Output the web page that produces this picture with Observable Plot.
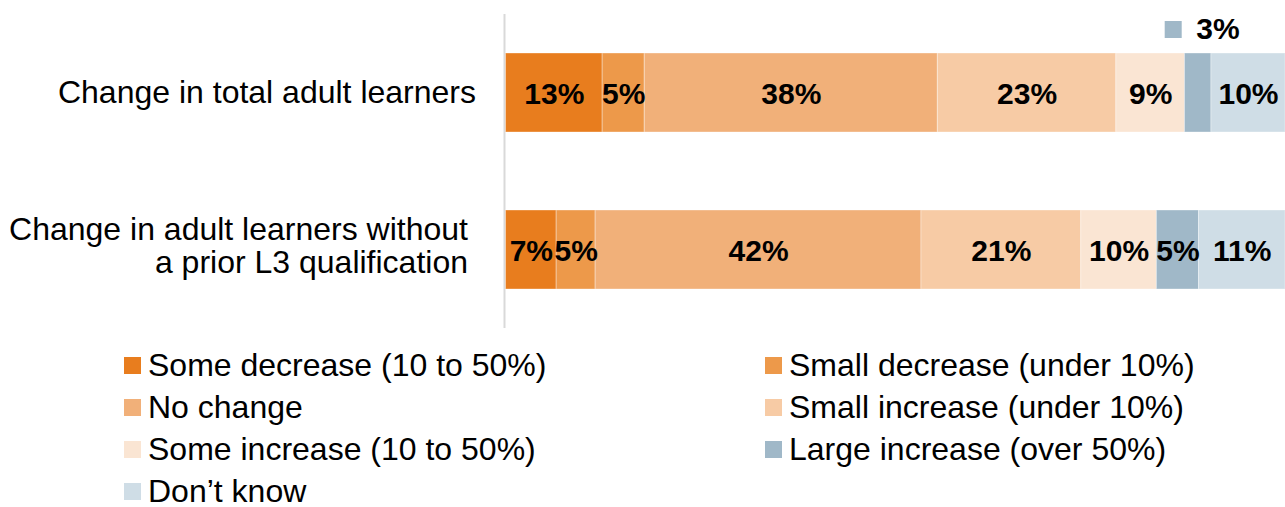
<!DOCTYPE html>
<html>
<head>
<meta charset="utf-8">
<script src="https://cdn.jsdelivr.net/npm/d3@7"></script>
<script src="https://cdn.jsdelivr.net/npm/@observablehq/plot@0.6"></script>
<style>
  body { margin: 0; background: white; font-family: "Liberation Sans", Arial, sans-serif; overflow: hidden; }
  #chart svg { display: block; }
  .legend { display: grid; grid-template-columns: 641px 1fr; grid-auto-rows: 42px; padding-left: 124px; margin-top: 9px; }
  .item { display: flex; align-items: center; font-size: 32px; line-height: 1; color: #000; white-space: nowrap; }
  .sw { width: 17px; height: 17px; margin-right: 7px; flex: none; }
</style>
</head>
<body>
<div id="chart"></div>
<div class="legend" id="legend"></div>
<script>
const categories = [
  "Change in total adult learners",
  "Change in adult learners without\na prior L3 qualification"
];
const series = [
  "Some decrease (10 to 50%)",
  "Small decrease (under 10%)",
  "No change",
  "Small increase (under 10%)",
  "Some increase (10 to 50%)",
  "Large increase (over 50%)",
  "Don’t know"
];
const colors = ["#E87D1E", "#ED994A", "#F1B079", "#F7CBA5", "#FAE5D3", "#A0B8C8", "#CFDDE6"];
const totalValues = [12.4, 5.4, 37.6, 22.9, 8.8, 3.4, 9.5];
const noPriorL3Values = [6.5, 5.0, 41.8, 20.5, 9.7, 5.4, 11.1];
const totalLabels = ["13%", "5%", "38%", "23%", "9%", "3%", "10%"];
const noPriorL3Labels = ["7%", "5%", "42%", "21%", "10%", "5%", "11%"];

const valueSets = [totalValues, noPriorL3Values];
const labelSets = [totalLabels, noPriorL3Labels];
const rows = [];
categories.forEach((c, i) => {
  let acc = 0;
  series.forEach((s, j) => {
    const v = valueSets[i][j];
    const x1 = acc; acc += v;
    rows.push({category: c, series: s, value: v, label: labelSets[i][j], x1, x2: acc, mid: (x1 + acc) / 2, callout: v < 4});
  });
});

const font = "'Liberation Sans', Arial, sans-serif";
const chart = Plot.plot({
  width: 1285,
  height: 335,
  marginLeft: 505.5,
  marginRight: 0,
  marginTop: 14,
  marginBottom: 7,
  style: {fontFamily: font, background: "white", overflow: "visible"},
  x: {domain: [0, 100], axis: null},
  y: {domain: categories, axis: null, paddingInner: 0.5, paddingOuter: 0.25},
  color: {domain: series, range: colors},
  marks: [
    Plot.ruleX([0], {stroke: "#d9d9d9", strokeWidth: 2, dx: -1.5}),
    Plot.barX(rows, {x1: "x1", x2: "x2", y: "category", fill: "series", stroke: "white", strokeOpacity: 0.35, strokeWidth: 1}),
    Plot.text(rows.filter(d => !d.callout), {x: "mid", y: "category", text: "label", fontSize: 30, fontWeight: "bold", fill: "black", dy: 1}),
    Plot.text(rows.filter(d => d.callout), {x: "mid", y: "category", text: "label", fontSize: 30, fontWeight: "bold", fill: "black", textAnchor: "start", dx: -2, dy: -63.5}),
    Plot.dot(rows.filter(d => d.callout), {x: "mid", y: "category", fill: "series", symbol: "square", r: 9.6, dx: -25, dy: -63.5}),
    Plot.text([categories[0]], {x: 0, y: d => d, text: d => d, textAnchor: "end", dx: -30, fontSize: 32, fill: "black"}),
    Plot.text([categories[1]], {x: 0, y: d => d, text: d => d, textAnchor: "end", dx: -38, dy: -4, fontSize: 32, lineHeight: 1.04, fill: "black"})
  ]
});
document.getElementById("chart").appendChild(chart);

const legend = document.getElementById("legend");
series.forEach((s, j) => {
  const item = document.createElement("div");
  item.className = "item";
  const sw = document.createElement("span");
  sw.className = "sw";
  sw.style.background = colors[j];
  const t = document.createElement("span");
  t.textContent = s;
  item.appendChild(sw);
  item.appendChild(t);
  legend.appendChild(item);
});
</script>
</body>
</html>
